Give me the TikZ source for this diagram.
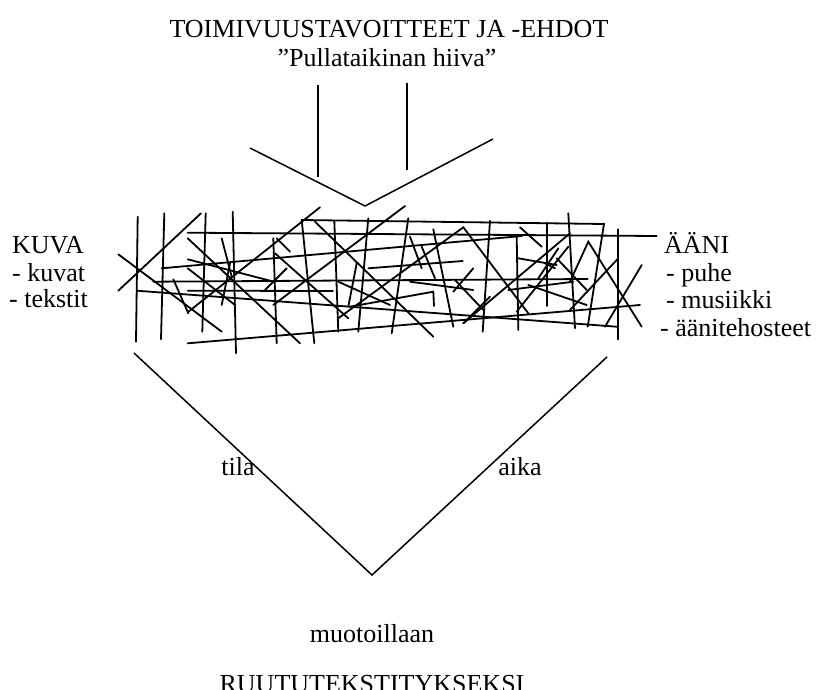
\documentclass[tikz,border=0pt]{standalone}
\usepackage{fontspec}
\setmainfont{Liberation Serif}
\begin{document}
\begin{tikzpicture}[x=1pt,y=-1pt,
  scrib/.style={line width=1.8pt,line cap=round},
  frame/.style={line width=1.5pt},
  lbl/.style={inner sep=0pt,font=\fontsize{26}{30}\selectfont}]
\path[use as bounding box] (0,0) rectangle (828,690);
\clip (0,0) rectangle (828,690);

% heading
\node[lbl,anchor=base] (head) at (389,38) {TOIMIVUUSTAVOITTEET JA -EHDOT};
\node[lbl,anchor=base] (yeast) at (387,67) {”Pullataikinan hiiva”};

% funnel from the heading down into the tangle
\coordinate (fA) at (318,85);
\coordinate (fB) at (318,177);
\coordinate (fC) at (407,83);
\coordinate (fD) at (407,170);
\coordinate (vL) at (250,148);
\coordinate (vM) at (365,206);
\coordinate (vR) at (493,139);
\draw[frame] (fA) -- (fB);
\draw[frame] (fC) -- (fD);
\draw[frame] (vL) -- (vM) -- (vR);

% side labels
\node[lbl,anchor=base west] (kuva) at (12,254) {KUVA};
\node[lbl,anchor=base west] (kuvat) at (12,281) {- kuvat};
\node[lbl,anchor=base west] (tekstit) at (9,307) {- tekstit};
\node[lbl,anchor=base west] (aani) at (664,254) {ÄÄNI};
\node[lbl,anchor=base west] (puhe) at (666,281) {- puhe};
\node[lbl,anchor=base west] (musiikki) at (666,308) {- musiikki};
\node[lbl,anchor=base west] (tehoste) at (660,336) {- äänitehosteet};

% the tangle of strokes
\foreach \a/\b in {
  {137.7,216.7}/{136,341.7}, {164.3,213.3}/{161,339.3},
  {201,213.3}/{118.3,290.7}, {118.3,254.3}/{221.7,331.7},
  {205.7,213.3}/{202.3,331.7}, {232.7,211.7}/{236,353.3},
  {187.7,232.7}/{656.7,236}, {187.7,238.3}/{300,343.3},
  {221.7,238.3}/{231.7,276.7}, {230,263.3}/{221.7,305},
  {161.7,268.3}/{522,236}, {187.7,259.3}/{275,282},
  {187.7,268.3}/{235,305}, {153.3,281.7}/{587.7,279},
  {187.7,290.7}/{333,291}, {136.7,290.7}/{616.7,326.7},
  {173.3,279.3}/{188.3,313.3}, {187.7,343.3}/{640,305},
  {276.7,238.3}/{290,251.7}, {273.3,238.3}/{276.7,343.3},
  {275,253.3}/{348.3,318.3}, {265,290}/{286.7,268.3},
  {273.3,305}/{405,206}, {187.7,312.3}/{320,207.3},
  {301.7,220}/{314.3,343.3}, {315,221.7}/{433.3,336.7},
  {334.3,220.7}/{338.3,331.7}, {368.3,218.3}/{358.3,331.7},
  {408.3,218.3}/{391.7,333.3}, {368.3,268.3}/{462.7,261},
  {410,236.7}/{421.7,268.3}, {433.3,229.3}/{453.3,326.7},
  {421.7,246.7}/{435,278.3}, {338.3,281.7}/{390,305},
  {348.3,306.7}/{356.7,263.3}, {410,281.7}/{473.3,290},
  {455,280}/{483.3,310}, {453.3,291.7}/{473.3,268.3},
  {463.3,323.3}/{490,296.7}, {490,220.7}/{482.7,331.7},
  {520,227.3}/{541.7,246.7}, {546.7,222.7}/{546.7,306},
  {568.3,213.3}/{575,328.3}, {516.7,236.7}/{518.3,330},
  {570,233.3}/{463.3,323.3}, {568.3,246.7}/{516.7,311.7},
  {518.3,258.3}/{556.7,265}, {618.3,229.3}/{618.3,339.3},
  {641.7,265}/{605,326.7}, {618.3,258.3}/{570,310},
  {508.3,290}/{573.3,281.7}, {528.3,285}/{586.7,305},
  {558.3,248.3}/{538.3,278.3}, {556.7,258.3}/{586.7,290},
  {545,263.3}/{555,268.3}}
  \draw[scrib] (\a) -- (\b);
\draw[scrib] (301.7,220) -- (604,224) -- (587.7,326.7);
\draw[scrib] (350,306.7) -- (433.3,291.7) -- (434,306);
\draw[scrib] (338.3,318.3) -- (463.3,227.3) -- (528.3,313.3);
\draw[scrib] (570,281.7) -- (588.3,241.7) -- (641.7,326.7);

% lower funnel: space and time
\coordinate (bL) at (134,353);
\coordinate (bM) at (372,575);
\coordinate (bR) at (607,357);
\draw[frame] (bL) -- (bM) -- (bR);
\node[lbl,anchor=base] (tila) at (238,475) {tila};
\node[lbl,anchor=base] (aika) at (520,475) {aika};

% result
\node[lbl,anchor=base] (muoto) at (372,642) {muotoillaan};
\node[lbl,anchor=base] (ruutu) at (372,692) {RUUTUTEKSTITYKSEKSI};
\end{tikzpicture}
\end{document}
